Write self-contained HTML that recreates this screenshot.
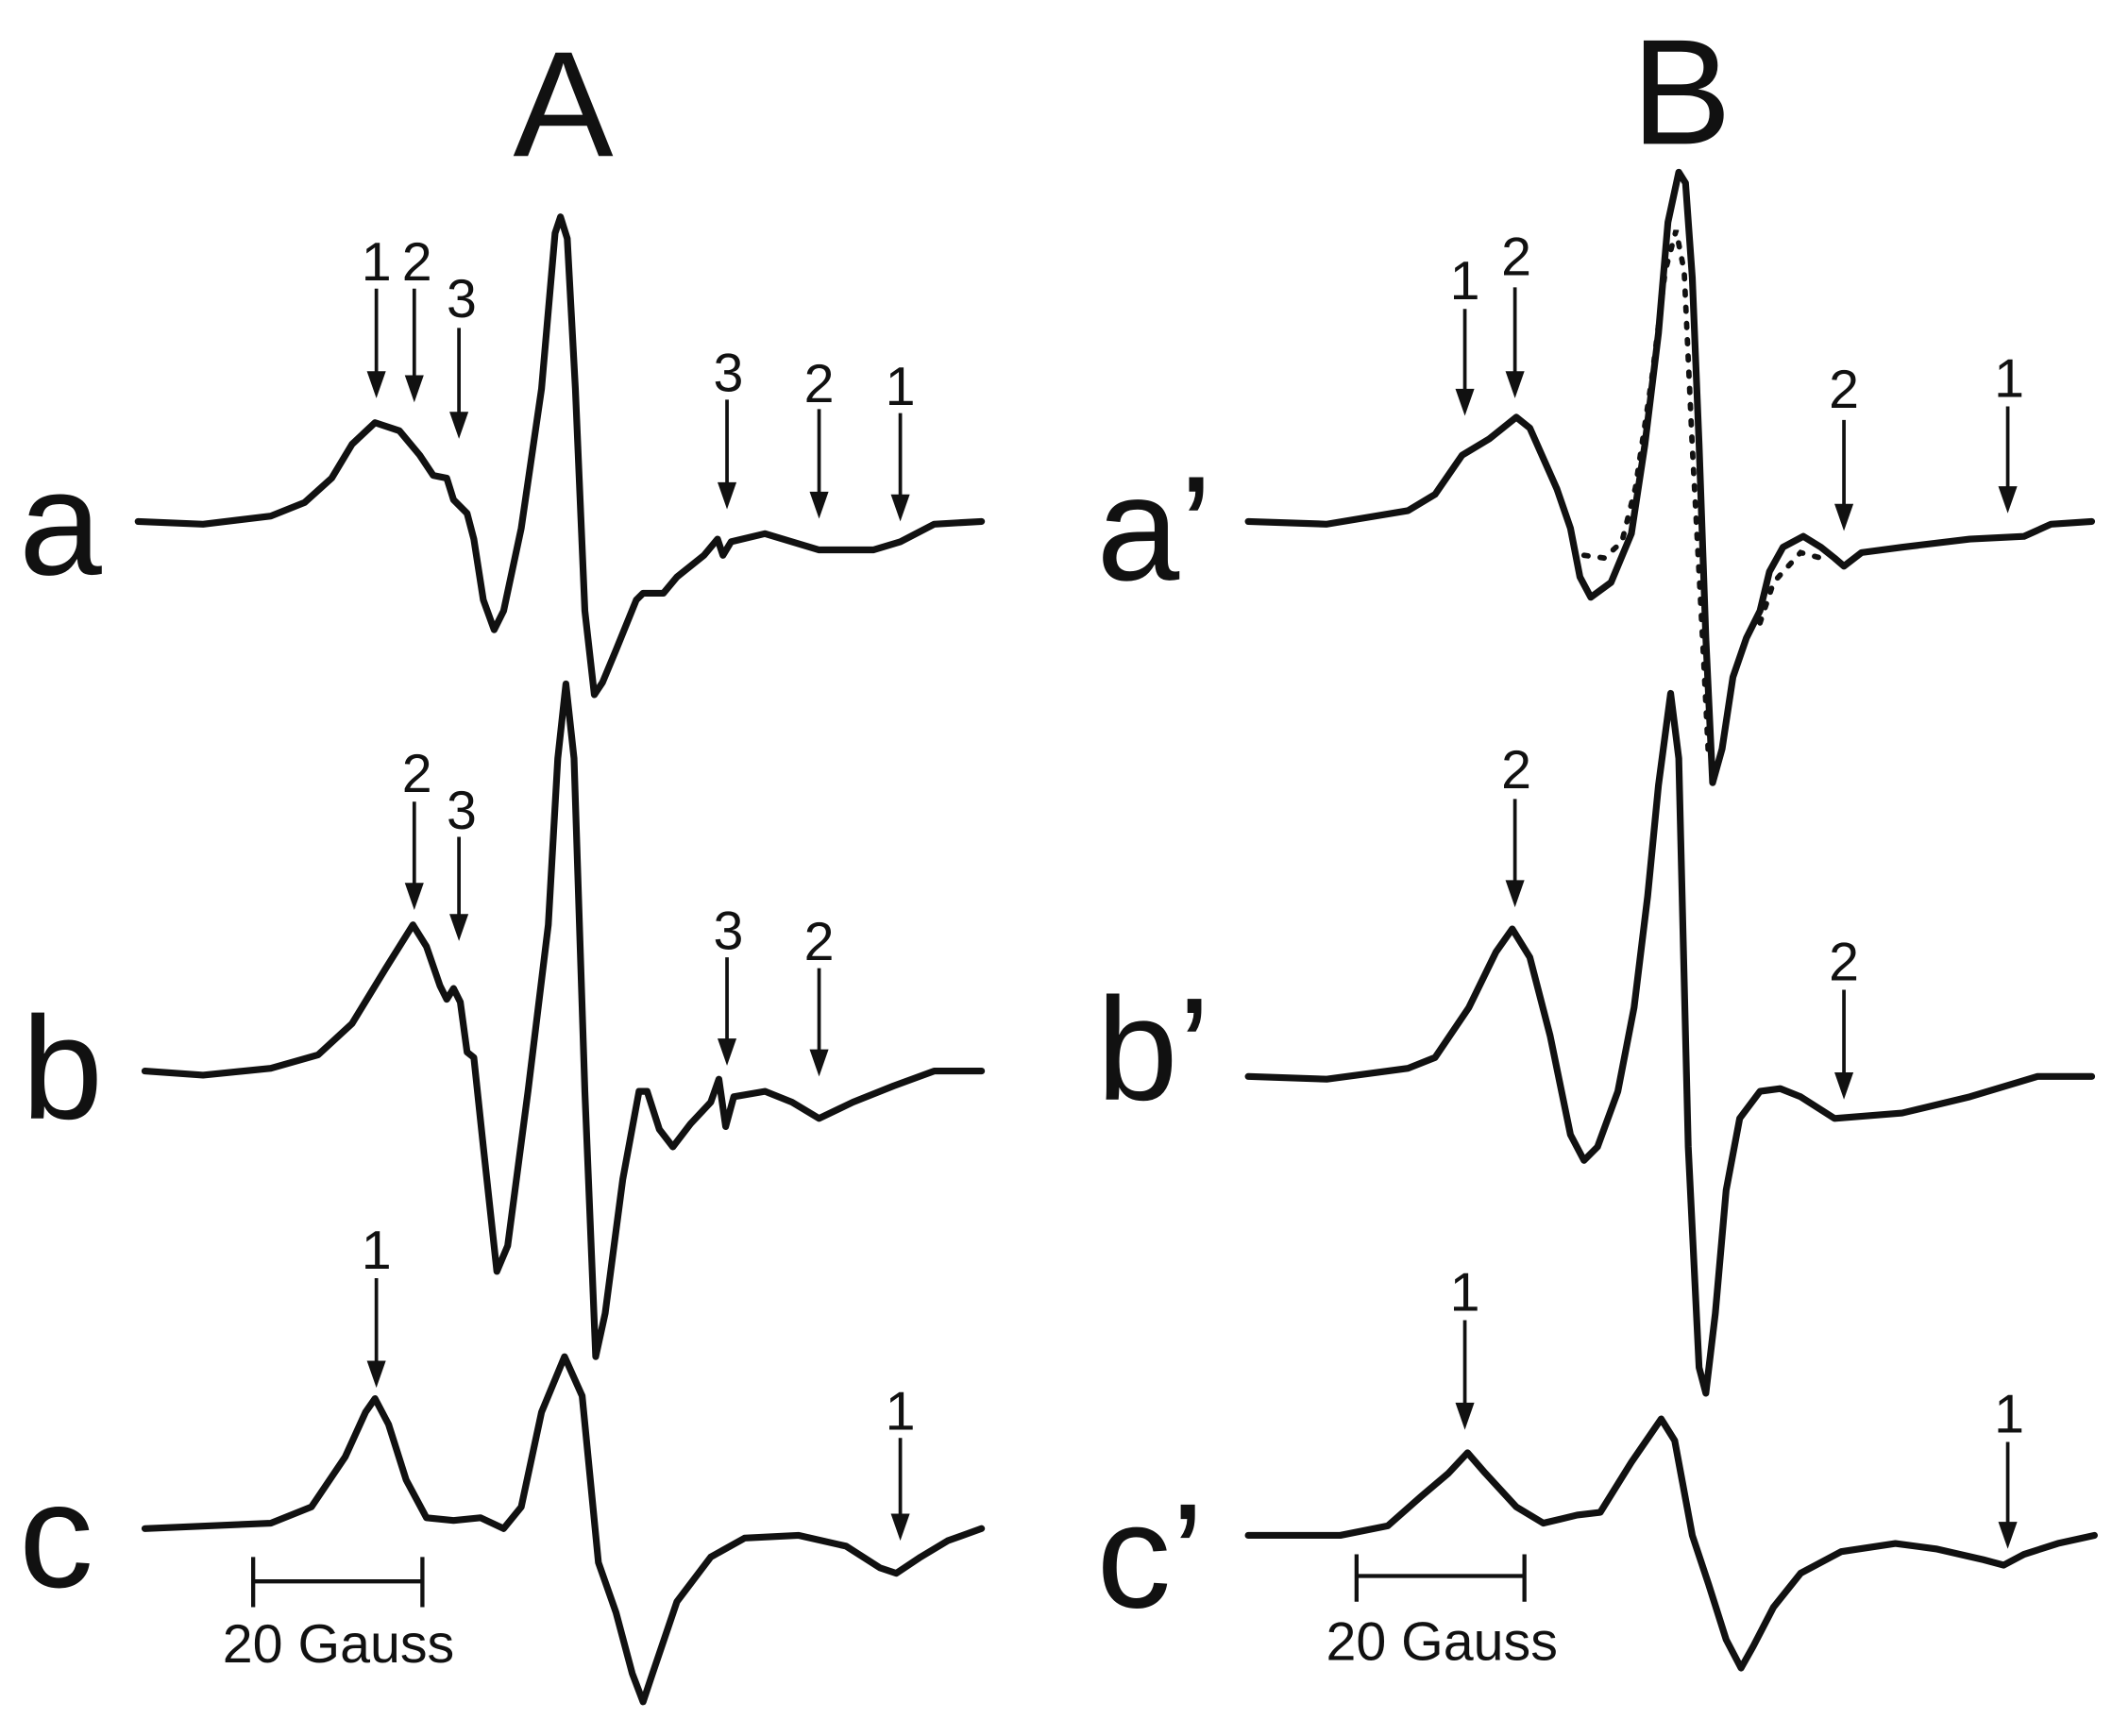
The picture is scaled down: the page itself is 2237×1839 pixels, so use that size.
<!DOCTYPE html>
<html><head><meta charset="utf-8"><style>html,body{margin:0;padding:0;background:#fff}svg{display:block}</style></head>
<body>
<svg width="2237" height="1839" viewBox="0 0 1560 1282" xmlns="http://www.w3.org/2000/svg">
<rect width="1560" height="1282" fill="#fff"/>
<g font-family="Liberation Sans, sans-serif" fill="#111">
<text x="416" y="115" font-size="111" text-anchor="middle">A</text>
<text x="1242" y="106" font-size="111" text-anchor="middle">B</text>
<text x="14" y="424" font-size="110">a</text>
<text x="16" y="826" font-size="108">b</text>
<text x="14" y="1172" font-size="110">c</text>
<text x="810" y="428" font-size="110">a’</text>
<text x="810" y="812" font-size="108">b’</text>
<text x="810" y="1187" font-size="110">c’</text>
<g font-size="40" text-anchor="middle">
<text x="278" y="207">1</text><text x="308" y="207">2</text><text x="341" y="234">3</text>
<text x="538" y="289">3</text><text x="605" y="297">2</text><text x="665" y="299">1</text>
<text x="308" y="585">2</text><text x="341" y="612">3</text>
<text x="538" y="701">3</text><text x="605" y="709">2</text>
<text x="278" y="937">1</text><text x="665" y="1056">1</text>
<text x="1082" y="221">1</text><text x="1120" y="203">2</text>
<text x="1362" y="301">2</text><text x="1484" y="293">1</text>
<text x="1120" y="582">2</text><text x="1362" y="724">2</text>
<text x="1082" y="968">1</text><text x="1484" y="1058">1</text>
<text x="250" y="1228">20 Gauss</text>
<text x="1065" y="1226">20 Gauss</text>
</g>
</g>
<g stroke="#111" stroke-width="2.6" fill="none">
<line x1="278" y1="213" x2="278" y2="278"/>
<line x1="306" y1="213" x2="306" y2="281"/>
<line x1="339" y1="242" x2="339" y2="308"/>
<line x1="537" y1="295" x2="537" y2="360"/>
<line x1="605" y1="302" x2="605" y2="367"/>
<line x1="665" y1="305" x2="665" y2="369"/>
<line x1="306" y1="592" x2="306" y2="656"/>
<line x1="339" y1="618" x2="339" y2="679"/>
<line x1="537" y1="707" x2="537" y2="771"/>
<line x1="605" y1="715" x2="605" y2="779"/>
<line x1="278" y1="944" x2="278" y2="1009"/>
<line x1="665" y1="1062" x2="665" y2="1122"/>
<line x1="1082" y1="228" x2="1082" y2="291"/>
<line x1="1119" y1="212" x2="1119" y2="278"/>
<line x1="1362" y1="310" x2="1362" y2="376"/>
<line x1="1483" y1="300" x2="1483" y2="363"/>
<line x1="1119" y1="590" x2="1119" y2="654"/>
<line x1="1362" y1="731" x2="1362" y2="796"/>
<line x1="1082" y1="975" x2="1082" y2="1040"/>
<line x1="1483" y1="1065" x2="1483" y2="1128"/>
</g>
<g fill="#111">
<polygon points="271,274 285,274 278,294"/>
<polygon points="299,277 313,277 306,297"/>
<polygon points="332,304 346,304 339,324"/>
<polygon points="530,356 544,356 537,376"/>
<polygon points="598,363 612,363 605,383"/>
<polygon points="658,365 672,365 665,385"/>
<polygon points="299,652 313,652 306,672"/>
<polygon points="332,675 346,675 339,695"/>
<polygon points="530,767 544,767 537,787"/>
<polygon points="598,775 612,775 605,795"/>
<polygon points="271,1005 285,1005 278,1025"/>
<polygon points="658,1118 672,1118 665,1138"/>
<polygon points="1075,287 1089,287 1082,307"/>
<polygon points="1112,274 1126,274 1119,294"/>
<polygon points="1355,372 1369,372 1362,392"/>
<polygon points="1476,359 1490,359 1483,379"/>
<polygon points="1112,650 1126,650 1119,670"/>
<polygon points="1355,792 1369,792 1362,812"/>
<polygon points="1075,1036 1089,1036 1082,1056"/>
<polygon points="1476,1124 1490,1124 1483,1144"/>
</g>
<g stroke="#111" stroke-width="3" fill="none">
<path d="M187,1150 V1187 M312,1150 V1187 M187,1168 H312"/>
<path d="M1002,1148 V1183 M1126,1148 V1183 M1002,1164 H1126"/>
</g>
<g stroke="#111" stroke-width="5" fill="none" stroke-linejoin="round" stroke-linecap="round">
<polyline points="102,385 150,387 200,381 225,371 245,353 260,328 277,312 295,318 310,336 320,351 330,353 335,369 345,379 350,398 357,443 365,465 372,451 385,390 400,287 410,172 414,160 419,176 425,287 432,451 439,513 445,504 455,480 470,443 475,438 490,438 500,426 520,410 530,398 534,410 540,400 565,394 585,400 605,406 645,406 665,400 690,387 725,385"/>
<polyline points="107,791 150,794 200,789 235,779 260,756 285,715 305,683 315,699 325,728 330,738 335,730 340,740 345,777 350,781 357,847 367,939 375,920 390,806 405,683 412,560 418,505 424,560 432,806 440,1002 447,970 460,871 472,806 478,806 487,834 497,847 510,830 525,814 531,797 536,832 542,810 565,806 585,814 605,826 630,814 660,802 690,791 725,791"/>
<polyline points="107,1129 200,1125 230,1113 255,1076 270,1043 277,1033 287,1052 300,1093 315,1121 335,1123 355,1121 372,1129 385,1113 400,1043 417,1002 430,1031 442,1154 455,1191 467,1236 475,1257 482,1236 500,1183 525,1150 550,1136 590,1134 625,1142 650,1158 662,1162 680,1150 700,1138 725,1129"/>
<polyline points="922,385 980,387 1040,377 1060,365 1080,336 1100,324 1120,308 1130,316 1150,361 1160,390 1167,426 1175,441 1190,430 1205,394 1215,328 1225,246 1232,164 1240,127 1245,135 1250,205 1255,328 1260,471 1265,578 1272,553 1280,500 1290,471 1300,451 1307,422 1317,404 1332,396 1345,404 1355,412 1362,418 1375,408 1405,404 1455,398 1495,396 1515,387 1545,385"/>
<polyline points="922,795 980,797 1040,789 1060,781 1085,744 1105,703 1117,686 1130,707 1145,765 1160,838 1170,857 1180,847 1195,806 1207,744 1217,662 1225,580 1234,512 1240,560 1242,642 1247,847 1255,1010 1260,1029 1267,970 1275,879 1285,826 1300,806 1315,804 1330,810 1355,826 1405,822 1455,810 1505,795 1545,795"/>
<polyline points="922,1134 990,1134 1025,1127 1050,1105 1070,1088 1084,1073 1097,1088 1120,1113 1140,1125 1165,1119 1182,1117 1205,1080 1227,1048 1237,1064 1250,1134 1262,1170 1275,1211 1286,1232 1295,1216 1310,1187 1330,1162 1360,1146 1400,1140 1430,1144 1465,1152 1480,1156 1495,1148 1520,1140 1547,1134"/>
</g>
<g stroke="#111" stroke-width="4" fill="none" stroke-dasharray="3 9" stroke-linecap="round">
<polyline points="1170,410 1185,412 1198,400 1208,360 1220,280 1230,200 1238,170 1244,200 1250,330 1258,480 1262,560"/>
<polyline points="1300,460 1310,430 1330,408 1345,412"/>
</g>
</svg>
</body></html>
